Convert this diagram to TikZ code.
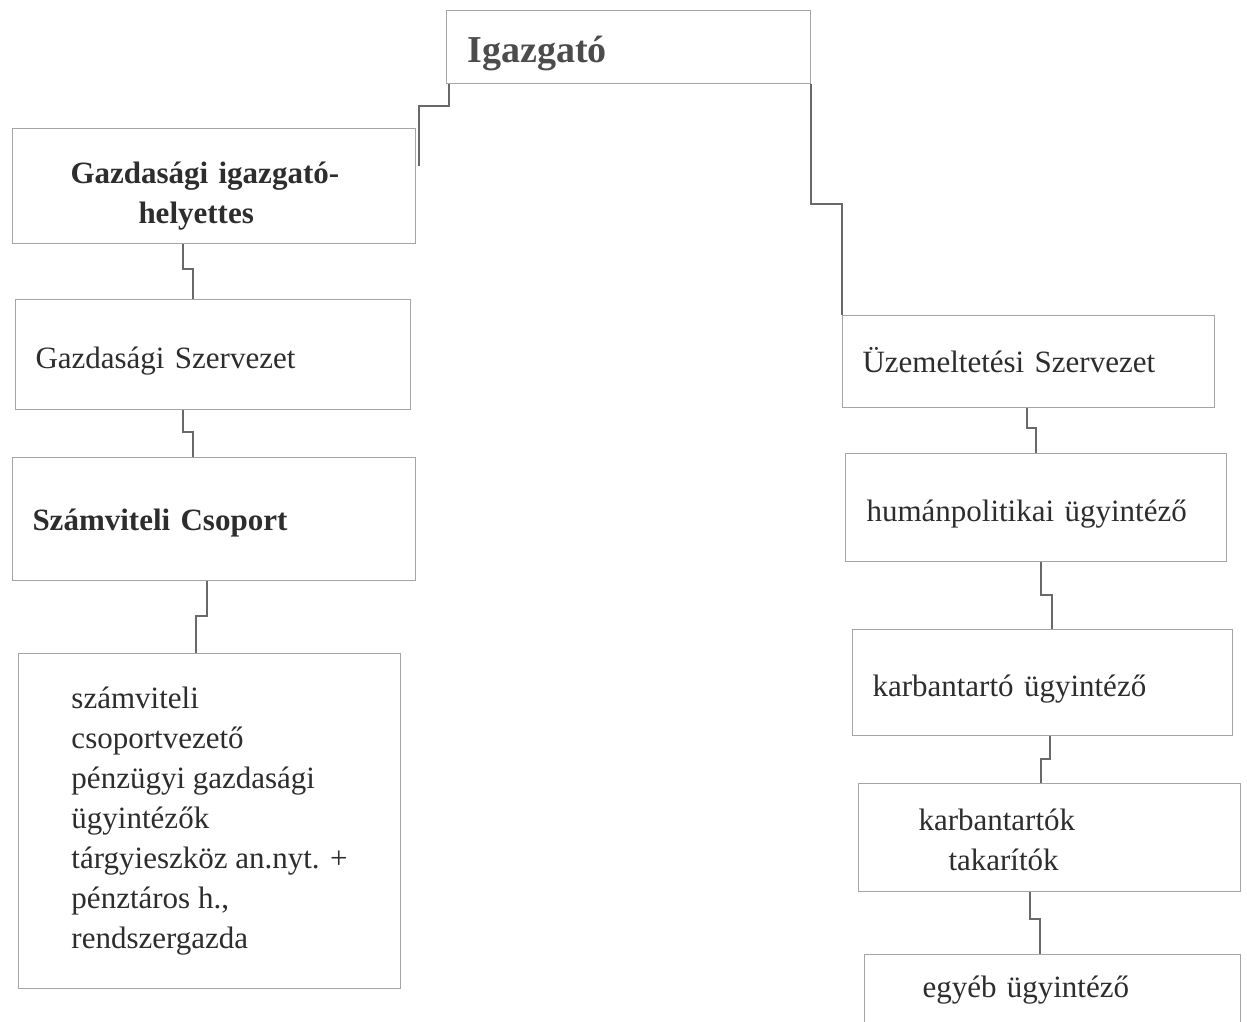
\documentclass[tikz,border=0pt]{standalone}
\usepackage{fontspec}
\setmainfont{Liberation Serif}
\usepackage{tikz}
\usetikzlibrary{positioning}
\definecolor{boxgray}{RGB}{165,165,165}
\definecolor{linegray}{RGB}{105,105,105}
\definecolor{txtgray}{RGB}{45,45,45}
\tikzstyle{unit} = [rectangle, draw=boxgray, line width=1pt, text=txtgray, align=left, anchor=north west, inner ysep=0pt, text depth=0pt, font=\fontsize{31}{40}\selectfont]
\tikzstyle{head} = [unit, font=\fontsize{31}{40}\selectfont\bfseries]
\tikzstyle{tedge} = [draw=linegray, line width=1.3pt]

\begin{document}
\begin{tikzpicture}[x=1pt, y=-1pt]
\useasboundingbox[fill=white] (0,0) rectangle (1247,1021);

% units =============================

% top
\node[head, font=\fontsize{38}{44}\selectfont\bfseries, text=txtgray!85, minimum height=73pt, text height=31pt, text width=322pt, inner xsep=21pt] (igazgato) at (446,10) {Igazgató};

% left branch
\node[head, text depth=, minimum height=115pt, text width=287pt, inner xsep=58pt] (gih) at (12,128) {\rule{0pt}{41pt}Gazdasági igazgató-\\\hspace*{68pt}helyettes};
\node[unit, below right=55pt and 3pt of gih.south west, minimum height=110pt, text height=28pt, text width=355pt, inner xsep=20pt] (gszerv) {Gazdasági Szervezet};
\node[head, below right=47pt and -3pt of gszerv.south west, minimum height=123pt, text height=23pt, text width=363pt, inner xsep=20pt] (szcs) {Számviteli Csoport};
\node[unit, text depth=, below right=72pt and 6pt of szcs.south west, minimum height=335pt, minimum width=382pt] (szlist) {számviteli\\csoportvezető\\pénzügyi gazdasági\\ügyintézők\\tárgyieszköz an.nyt. +\\pénztáros h.,\\rendszergazda};

% right branch
\node[unit, minimum height=92pt, text height=22pt, text width=332pt, inner xsep=20pt] (uzem) at (842,315) {Üzemeltetési Szervezet};
\node[unit, below right=45pt and 3pt of uzem.south west, minimum height=108pt, text height=28pt, text width=339pt, inner xsep=21pt] (humpol) {humánpolitikai ügyintéző};
\node[unit, below right=67pt and 7pt of humpol.south west, minimum height=106pt, text height=28pt, text width=340pt, inner xsep=20pt] (karbugy) {karbantartó ügyintéző};
\node[unit, text depth=, below right=47pt and 6pt of karbugy.south west, minimum height=108pt, text width=262pt, inner xsep=60pt] (karbtak) {\rule{0pt}{26pt}karbantartók\\\hspace*{30pt}takarítók};
\node[unit, below right=62pt and 6pt of karbtak.south west, minimum height=69pt, text height=17pt, text width=260pt, inner xsep=58pt] (egyeb) {egyéb ügyintéző};

%edges
\path[tedge] ([xshift=3pt]igazgato.south west) -- ++(0,-22pt) -| ([shift={(3pt,20pt)}]gih.east);
\path[tedge] (igazgato.south east) -- ++(0,-120pt) -| (uzem.north west);

\path[tedge] ([xshift=171pt]gih.south west) -- ++(0,-25pt) -| ([xshift=178pt]gszerv.north west);
\path[tedge] ([xshift=168pt]gszerv.south west) -- ++(0,-22pt) -| ([xshift=181pt]szcs.north west);
\path[tedge] ([xshift=195pt]szcs.south west) -- ++(0,-35pt) -| ([xshift=178pt]szlist.north west);

\path[tedge] ([xshift=185pt]uzem.south west) -- ++(0,-20pt) -| ([xshift=191pt]humpol.north west);
\path[tedge] ([xshift=196pt]humpol.south west) -- ++(0,-33pt) -| ([xshift=200pt]karbugy.north west);
\path[tedge] ([xshift=198pt]karbugy.south west) -- ++(0,-23pt) -| ([xshift=183pt]karbtak.north west);
\path[tedge] ([xshift=172pt]karbtak.south west) -- ++(0,-27pt) -| ([xshift=176pt]egyeb.north west);

\end{tikzpicture}
\end{document}
